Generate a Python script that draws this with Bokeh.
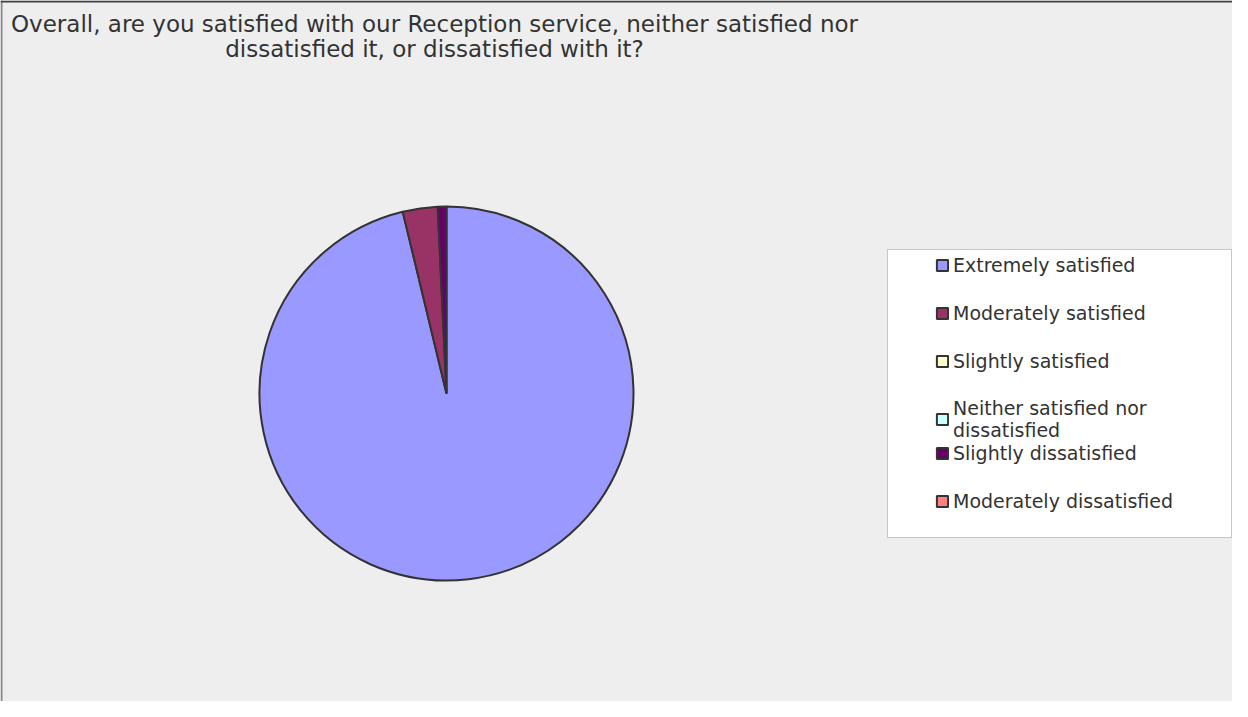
import numpy as np
from bokeh.plotting import figure
from bokeh.models import (ColumnDataSource, Legend, LegendItem, Label,
                          BoxAnnotation, Span, Range1d)
from bokeh.embed import file_html
from bokeh.resources import INLINE

# ---- data ----
categories = ["Extremely satisfied", "Moderately satisfied", "Slightly satisfied",
              "Neither satisfied nor\ndissatisfied", "Slightly dissatisfied",
              "Moderately dissatisfied"]
counts = [128, 4, 0, 0, 1, 0]
colors = ["#9999FF", "#993366", "#FFFFCC", "#CCFFFF", "#660066", "#FF8080"]
title_lines = ["Overall, are you satisfied with our Reception service, neither satisfied nor",
               "dissatisfied it, or dissatisfied with it?"]

W, H = 1232, 701
FONT = "DejaVu Sans"

p = figure(width=W, height=H, x_range=Range1d(0, W), y_range=Range1d(0, H),
           output_backend="svg", toolbar_location=None, min_border=0,
           x_axis_type=None, y_axis_type=None,
           background_fill_color="#EEEEEE", border_fill_color="#EEEEEE",
           outline_line_color=None)
p.grid.visible = False

# pie geometry (layout, pixels)
cx, cy, rad = 446, 308, 187

total = float(sum(counts))
cum = np.concatenate([[0.0], np.cumsum(counts)]) / total
renderers = []
for i, (cat, c) in enumerate(zip(categories, counts)):
    start = [np.pi / 2 - 2 * np.pi * cum[i]]
    end = [np.pi / 2 - 2 * np.pi * cum[i + 1]]
    r_ = [rad if c > 0 else 0]
    src = ColumnDataSource(dict(start=start, end=end, r=r_))
    r = p.wedge(x=cx, y=cy, radius="r", start_angle="start", end_angle="end",
                direction="clock", fill_color=colors[i], line_color="#333333",
                line_width=2, source=src)
    renderers.append(r)

# legend frame
box = BoxAnnotation(left=887, right=1231, top=452, bottom=164,
                    fill_color="white", fill_alpha=1.0,
                    line_color="#555555", line_width=1)
p.add_layout(box)

def make_legend(idx, loc):
    items = [LegendItem(label=categories[i], renderers=[renderers[i]], index=0) for i in idx]
    lg = Legend(items=items, location=loc, orientation="vertical",
                label_text_font=FONT, label_text_font_size="19px",
                label_text_color="#333333", label_height=24,
                glyph_height=14, glyph_width=14, spacing=24, padding=0,
                margin=0, label_standoff=4, border_line_color=None,
                background_fill_alpha=0)
    return lg

p.add_layout(make_legend([0, 1, 2, 3], (935, 260)))
p.add_layout(make_legend([4, 5], (935, 188)))

# title
for txt, yy in zip(title_lines, [678, 653]):
    p.add_layout(Label(x=434, y=yy, text=txt, text_align="center",
                       text_baseline="middle", text_font=FONT,
                       text_font_size="23px", text_color="#333333"))

# chart border (left, top)
p.add_layout(Span(location=1, dimension="height", line_color="#888888", line_width=2))
p.add_layout(Span(location=H - 1, dimension="width", line_color="#404040", line_width=2))

open("out.html", "w").write(file_html(p, INLINE))
